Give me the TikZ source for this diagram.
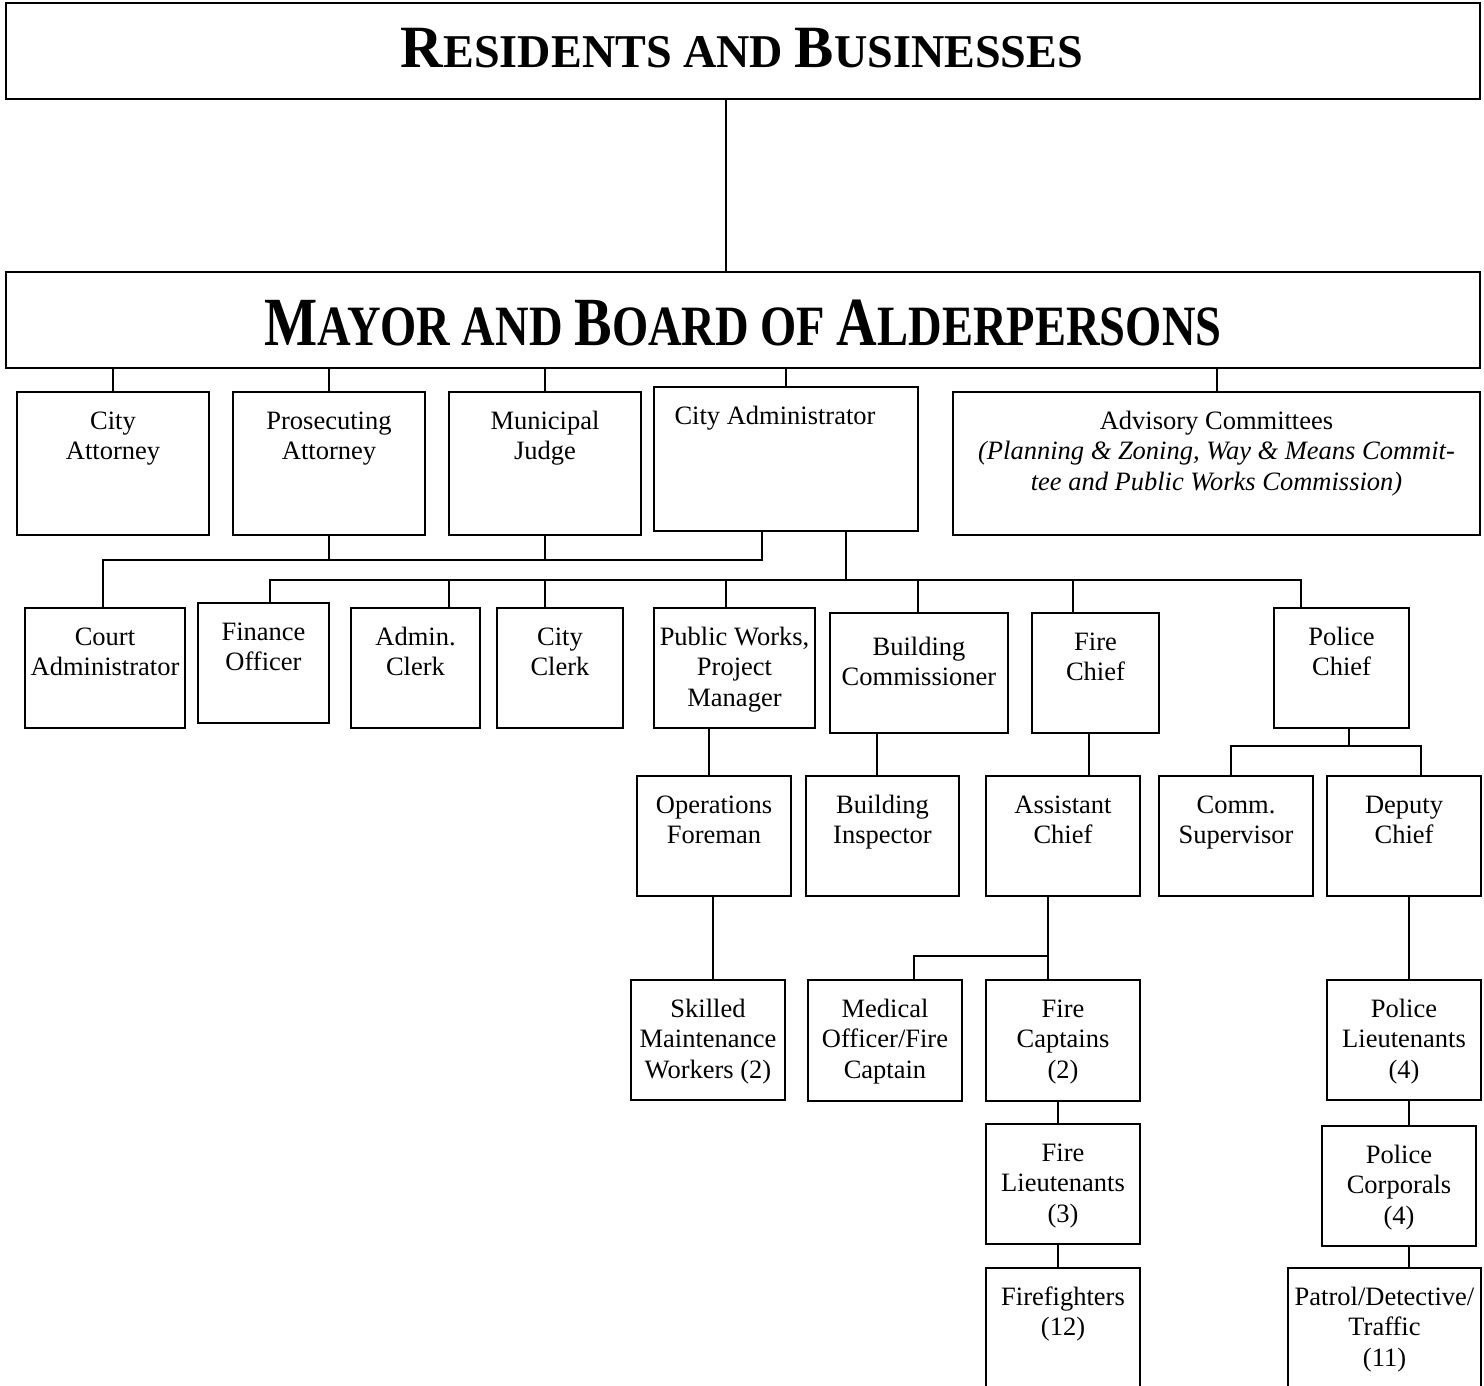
\documentclass[tikz,border=0pt]{standalone}
\usepackage{fontspec}
\setmainfont{Liberation Serif}
\usepackage{graphicx}
\usetikzlibrary{calc}
\tikzset{
 orgbox/.style={draw, line width=2pt, inner sep=0pt, outer sep=0pt, rectangle},
 orglbl/.style={inner sep=0pt, outer sep=0pt, align=center, font=\fontsize{26.5}{30.5}\selectfont, anchor=north},
 titlebox/.style={orgbox, line width=2.3pt},
 titlelbl/.style={inner sep=0pt, outer sep=0pt, anchor=base},
 conn/.style={line width=2pt},
}
\newcommand\capL[2]{{\fontsize{#1}{#1}\selectfont #2}}
\newcommand\orgbx[7][]{%
 \pgfmathsetmacro\bxw{#5-#3}\pgfmathsetmacro\bxh{#6-#4}%
 \node[orgbox, minimum width=\bxw pt, minimum height=\bxh pt, anchor=north west] (#2) at (#3,#4) {};
 \node[orglbl, #1] (#2t) at ($(#2.north)+(0,15.7)$) {\strut #7};
}
\begin{document}
\begin{tikzpicture}[x=1pt,y=-1pt]
\useasboundingbox (0,0) rectangle (1484,1386);
\begin{scope}
\clip (0,0) rectangle (1484,1386);
% titles
\node[titlebox, minimum width=1474pt, minimum height=96pt, anchor=north west] (res) at (6,3) {};
\node[titlelbl] (rest) at (742,68) {\resizebox{682pt}{\height}{\bfseries\fontsize{47}{50}\selectfont\capL{60}{R}ESIDENTS AND \capL{60}{B}USINESSES}};
\node[titlebox, minimum width=1474pt, minimum height=96pt, anchor=north west] (mayor) at (6,272) {};
\node[titlelbl] (mayort) at (743,345) {\resizebox{957pt}{\height}{\bfseries\fontsize{57}{60}\selectfont\capL{69}{M}AYOR AND \capL{69}{B}OARD OF \capL{69}{A}LDERPERSONS}};
% row 1
\orgbx{catty}{17}{392}{209}{535}{City\\Attorney}
\orgbx{pros}{233}{392}{425}{535}{Prosecuting\\Attorney}
\orgbx{judge}{449}{392}{641}{535}{Municipal\\Judge}
\orgbx[xshift=-11pt]{cadm}{654}{387}{918}{531}{City Administrator}
\orgbx{adv}{953}{392}{1480}{535}{Advisory Committees\\\textit{(Planning \& Zoning, Way \& Means Commit-}\\\textit{tee and Public Works Commission)}}
% row 2
\orgbx{court}{25}{608}{185}{728}{Court\\Administrator}
\orgbx{fin}{198}{603}{329}{723}{Finance\\Officer}
\orgbx{aclk}{351}{608}{480}{728}{Admin.\\Clerk}
\orgbx{cclk}{497}{608}{623}{728}{City\\Clerk}
\orgbx{pw}{654}{608}{815}{728}{Public Works,\\Project\\Manager}
\orgbx[yshift=-5pt]{bc}{830}{613}{1008}{733}{Building\\Commissioner}
\orgbx{fc}{1032}{613}{1159}{733}{Fire\\Chief}
\orgbx{polc}{1274}{608}{1409}{728}{Police\\Chief}
% row 3
\orgbx{ops}{637}{776}{791}{896}{Operations\\Foreman}
\orgbx{bi}{806}{776}{959}{896}{Building\\Inspector}
\orgbx{asst}{986}{776}{1140}{896}{Assistant\\Chief}
\orgbx{comm}{1159}{776}{1313}{896}{Comm.\\Supervisor}
\orgbx{dep}{1327}{776}{1481}{896}{Deputy\\Chief}
% row 4
\orgbx{skm}{631}{980}{785}{1100}{Skilled\\Maintenance\\Workers (2)}
\orgbx{med}{808}{980}{962}{1101}{Medical\\Officer/Fire\\Captain}
\orgbx{fcap}{986}{980}{1140}{1101}{Fire\\Captains\\(2)}
\orgbx{plt}{1327}{980}{1481}{1100}{Police\\Lieutenants\\(4)}
% row 5
\orgbx{flt}{986}{1124}{1140}{1244}{Fire\\Lieutenants\\(3)}
\orgbx{pcorp}{1322}{1126}{1476}{1246}{Police\\Corporals\\(4)}
% row 6
\orgbx{ff}{986}{1268}{1140}{1400}{Firefighters\\(12)}
\orgbx{patrol}{1288}{1268}{1481}{1400}{Patrol/Detective/\\Traffic\\(11)}
% bus coordinates
\coordinate (cbus) at (0,560);
\coordinate (abus) at (0,580);
\coordinate (pbus) at (0,746);
\coordinate (fbus) at (0,956);
% connectors
\draw[conn] ([xshift=-17pt]res.south) -- ([xshift=-17pt]res.south |- mayor.north);
\foreach \n in {catty,pros,judge,cadm} \draw[conn] (mayor.south -| \n.north) -- (\n.north);
\draw[conn] ([xshift=0.5pt]mayor.south -| adv.north) -- ([xshift=0.5pt]adv.north);
\draw[conn] (pros.south) -- (pros.south |- cbus);
\draw[conn] (judge.south) -- (judge.south |- cbus);
\draw[conn] ([xshift=-24pt]cadm.south) |- ([xshift=-2pt]court.north |- cbus) -- ([xshift=-2pt]court.north);
\draw[conn] ([xshift=60pt]cadm.south) -- ([xshift=60pt]cadm.south |- abus);
\draw[conn] ([xshift=6.5pt]fin.north) |- ([xshift=-40.5pt]polc.north |- abus) -- ([xshift=-40.5pt]polc.north);
\draw[conn] ([xshift=33.5pt]aclk.north) -- ([xshift=33.5pt]aclk.north |- abus);
\draw[conn] ([xshift=-15pt]cclk.north) -- ([xshift=-15pt]cclk.north |- abus);
\draw[conn] ([xshift=-8.5pt]pw.north) -- ([xshift=-8.5pt]pw.north |- abus);
\draw[conn] ([xshift=-1pt]bc.north) -- ([xshift=-1pt]bc.north |- abus);
\draw[conn] ([xshift=-22.5pt]fc.north) -- ([xshift=-22.5pt]fc.north |- abus);
\draw[conn] ([xshift=-25.5pt]pw.south) -- ([xshift=-25.5pt]pw.south |- ops.north);
\draw[conn] ([xshift=-42pt]bc.south) -- ([xshift=-42pt]bc.south |- bi.north);
\draw[conn] ([xshift=-6.5pt]fc.south) -- ([xshift=-6.5pt]fc.south |- asst.north);
\draw[conn] ([xshift=7.5pt]polc.south) -- ([xshift=7.5pt]polc.south |- pbus);
\draw[conn] ([xshift=-5pt]comm.north) |- ([xshift=17pt]dep.north |- pbus) -- ([xshift=17pt]dep.north);
\draw[conn] ([xshift=-1pt]ops.south) -- ([xshift=-1pt]ops.south |- skm.north);
\draw[conn] ([xshift=-15pt]asst.south) -- ([xshift=-15pt]asst.south |- fcap.north);
\draw[conn] ([xshift=29pt]med.north) |- ([xshift=-15pt]asst.south |- fbus);
\draw[conn] ([xshift=5pt]dep.south) -- ([xshift=5pt]dep.south |- plt.north);
\draw[conn] ([xshift=-5pt]fcap.south) -- ([xshift=-5pt]fcap.south |- flt.north);
\draw[conn] ([xshift=5pt]plt.south) -- ([xshift=5pt]plt.south |- pcorp.north);
\draw[conn] ([xshift=-5pt]flt.south) -- ([xshift=-5pt]flt.south |- ff.north);
\draw[conn] ([xshift=10pt]pcorp.south) -- ([xshift=10pt]pcorp.south |- patrol.north);
\end{scope}
\end{tikzpicture}
\end{document}
